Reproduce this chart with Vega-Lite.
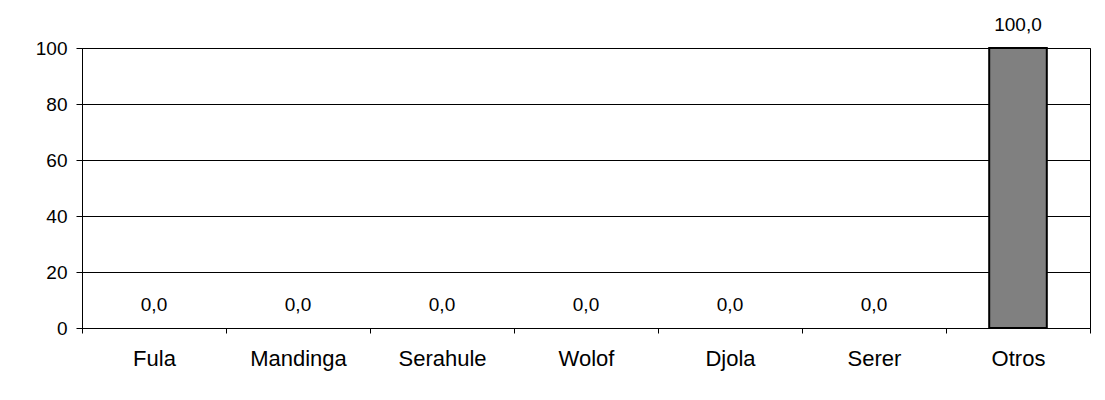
{
  "$schema": "https://vega.github.io/schema/vega-lite/v6.json",
  "width": 1008,
  "height": 280,
  "autosize": "none",
  "padding": {"left": 82, "top": 48, "right": 15, "bottom": 72},
  "background": "white",
  "config": {
    "view": {"stroke": "#000", "strokeWidth": 1},
    "font": "Liberation Sans",
    "locale": {"number": {"decimal": ",", "thousands": ".", "grouping": [3], "currency": ["", " €"]}}
  },
  "data": {
    "values": [
      {"grupo": "Fula", "valor": 0},
      {"grupo": "Mandinga", "valor": 0},
      {"grupo": "Serahule", "valor": 0},
      {"grupo": "Wolof", "valor": 0},
      {"grupo": "Djola", "valor": 0},
      {"grupo": "Serer", "valor": 0},
      {"grupo": "Otros", "valor": 100}
    ]
  },
  "encoding": {
    "x": {
      "field": "grupo",
      "type": "nominal",
      "sort": null,
      "scale": {"paddingInner": 0, "paddingOuter": 0},
      "axis": {
        "title": null,
        "labelAngle": 0,
        "tickBand": "extent",
        "tickSize": 5,
        "tickColor": "#000",
        "domainColor": "#000",
        "labelFontSize": 22,
        "labelColor": "#000",
        "labelPadding": 15,
        "grid": false
      }
    }
  },
  "layer": [
    {
      "mark": {"type": "bar", "fill": "#808080", "stroke": "#000", "strokeWidth": 2, "width": {"band": 0.4}},
      "encoding": {
        "y": {
          "field": "valor",
          "type": "quantitative",
          "scale": {"domain": [0, 100], "nice": false},
          "axis": {
            "title": null,
            "values": [0, 20, 40, 60, 80, 100],
            "grid": true,
            "gridColor": "#000",
            "gridOpacity": 1,
            "tickSize": 6,
            "tickColor": "#000",
            "domainColor": "#000",
            "labelFontSize": 19,
            "labelColor": "#000",
            "labelPadding": 9
          }
        },
        "strokeOpacity": {"condition": {"test": "datum.valor > 0", "value": 1}, "value": 0}
      }
    },
    {
      "mark": {"type": "text", "baseline": "bottom", "dy": -13, "fontSize": 19, "color": "#000"},
      "encoding": {
        "y": {"field": "valor", "type": "quantitative"},
        "text": {"field": "valor", "type": "quantitative", "format": ".1f"}
      }
    }
  ]
}
